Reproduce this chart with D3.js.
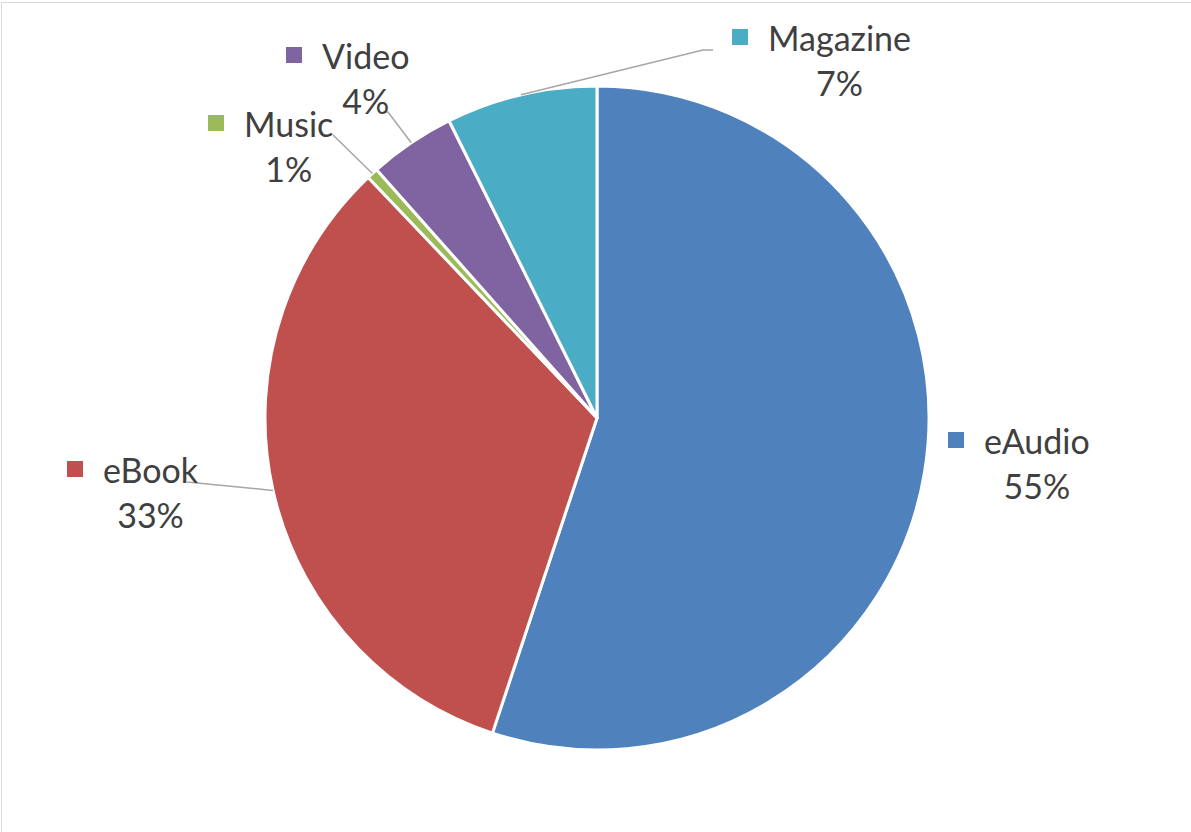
<!DOCTYPE html>
<html>
<head>
<meta charset="utf-8">
<script src="https://cdn.jsdelivr.net/npm/d3@7"></script>
<style>
  body { margin: 0; background: #fff; }
  text { font-family: Lato, "Open Sans", sans-serif; fill: #404040; }
</style>
</head>
<body>
<div id="chart"></div>
<script>
// data (share of circulation, percent)
const categories = ["eAudio", "eBook", "Music", "Video", "Magazine"];
const shares = [55.1, 32.8, 0.55, 4.2, 7.35];
const pctLabels = ["55%", "33%", "1%", "4%", "7%"];
const colors = ["#4F81BD", "#C0504D", "#9BBB59", "#8064A2", "#4BACC6"];

const width = 1191, height = 832;
const cx = 597, cy = 418, radius = 332;

// where Excel put each label (name start x, baseline y) and its leader end
const labelPos = {
  eAudio:   { x: 984, y: 454, lead: null },
  eBook:    { x: 103, y: 483, lead: [[187, 482]] },
  Music:    { x: 244, y: 137, lead: [[333, 135]] },
  Video:    { x: 322, y: 69,  lead: [[388, 112], [383, 112]] },
  Magazine: { x: 768, y: 51,  lead: [[703, 50], [713, 50]] }
};

const svg = d3.select("#chart")
  .append("svg")
    .attr("width", width)
    .attr("height", height);

// chart frame (only top/left edges show in the crop)
svg.append("rect")
  .attr("x", 1.5)
  .attr("y", 2.5)
  .attr("width", width + 10)
  .attr("height", height + 10)
  .attr("fill", "none")
  .attr("stroke", "#d9d9d9")
  .attr("stroke-width", 1);

const data = categories.map((c, i) => ({ name: c, value: shares[i], pct: pctLabels[i], color: colors[i] }));

const pie = d3.pie()
  .sort(null)
  .value(d => d.value);

const arc = d3.arc()
  .innerRadius(0)
  .outerRadius(radius);

const arcs = pie(data);

const g = svg.append("g")
  .attr("transform", `translate(${cx},${cy})`);

g.selectAll("path.slice")
  .data(arcs)
  .enter()
  .append("path")
    .attr("class", "slice")
    .attr("d", arc)
    .attr("fill", d => d.data.color)
    .attr("stroke", "#fff")
    .attr("stroke-width", 3)
    .attr("stroke-linejoin", "round");

// leader lines from slice edge (mid angle) to the label
arcs.forEach(d => {
  const lp = labelPos[d.data.name];
  if (!lp.lead) return;
  const mid = (d.startAngle + d.endAngle) / 2;
  const start = [cx + radius * Math.sin(mid), cy - radius * Math.cos(mid)];
  svg.append("path")
    .datum([start].concat(lp.lead))
    .attr("d", d3.line())
    .attr("fill", "none")
    .attr("stroke", "#a6a6a6")
    .attr("stroke-width", 1.5);
});

// labels: colour square + name, percent centred under the name
arcs.forEach(d => {
  const lp = labelPos[d.data.name];
  svg.append("rect")
    .attr("x", lp.x - 36)
    .attr("y", lp.y - 22)
    .attr("width", 16)
    .attr("height", 16)
    .attr("fill", d.data.color);
  const name = svg.append("text")
    .attr("x", lp.x)
    .attr("y", lp.y)
    .text(d.data.name)
    .style("font-size", "34px");
  const w = name.node().getComputedTextLength();
  svg.append("text")
    .attr("x", lp.x + w / 2)
    .attr("y", lp.y + 45)
    .attr("text-anchor", "middle")
    .text(d.data.pct)
    .style("font-size", "34px");
});
</script>
</body>
</html>
